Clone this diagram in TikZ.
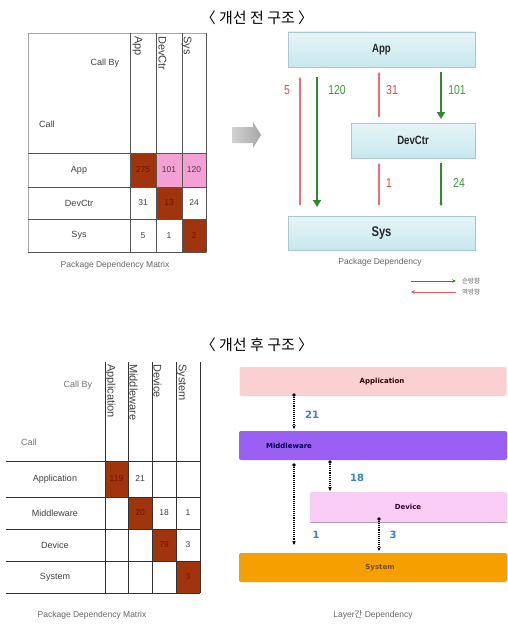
\documentclass[tikz,border=0pt]{standalone}
\usepackage{fontspec}
\setmainfont{Liberation Sans}
\newfontfamily\cjk{Noto Sans CJK KR}
\newfontfamily\narrowfont[FakeStretch=0.8]{Liberation Sans}
\newfontfamily\dejavu{DejaVu Sans}
\usetikzlibrary{arrows.meta}
\definecolor{brownc}{HTML}{A0340C}
\definecolor{pinkc}{HTML}{F5A0D5}
\definecolor{gridc}{HTML}{555555}
\definecolor{cellnum}{HTML}{6E1400}
\definecolor{txtc}{HTML}{404040}
\definecolor{redarr}{HTML}{E8707A}
\definecolor{redlbl}{HTML}{E04848}
\definecolor{greenarr}{HTML}{2E8B2E}
\definecolor{greenlbl}{HTML}{3C9C3C}
\definecolor{boxcyan}{HTML}{C8E8EE}
\definecolor{boxedge}{HTML}{A8C8D0}
\definecolor{apppink}{HTML}{FAD0D2}
\definecolor{midpurple}{HTML}{9A60F4}
\definecolor{devpink}{HTML}{F9CCF6}
\definecolor{sysorange}{HTML}{F5A000}
\definecolor{bluelbl}{HTML}{3A82C8}
\tikzset{
  title/.style={font=\cjk\fontsize{15}{17}\selectfont, text=black},
  caption/.style={font=\fontsize{8.5}{10}\selectfont, text=gray!80!black},
  mtxt/.style={font=\fontsize{9}{11}\selectfont, text=txtc, inner sep=0pt},
  hdr/.style={font=\fontsize{11}{13}\selectfont, text=txtc, rotate=-90, anchor=west, inner sep=0pt},
  cell/.style={inner sep=0pt, font=\fontsize{8.5}{10}\selectfont, text=txtc},
  hot/.style={cell, fill=brownc, text=cellnum},
  warm/.style={cell, fill=pinkc},
  grid/.style={draw=gridc, line width=1pt},
  cbox/.style={draw=boxedge, line width=0.6pt, top color=boxcyan!45!white, bottom color=boxcyan,
    inner sep=0pt, font=\narrowfont\bfseries\fontsize{12}{14}\selectfont, text=black!85},
  rthin/.style={draw=redarr, line width=1.1pt, -{Stealth[length=3pt,width=3pt]}},
  gthick/.style={draw=greenarr, line width=2.6pt, -{Triangle[length=7pt,width=8pt]}},
  gthin/.style={draw=greenarr, line width=1.1pt, -{Stealth[length=3pt,width=3pt]}},
  rlab/.style={font=\narrowfont\fontsize{13}{15}\selectfont, text=redlbl},
  glab/.style={font=\narrowfont\fontsize{13}{15}\selectfont, text=greenlbl},
  lbox/.style={rounded corners=2pt, inner sep=0pt},
  llab/.style={font=\dejavu\bfseries\fontsize{7}{8}\selectfont},
  dotarr/.style={draw=black, densely dotted, line width=1.1pt, -{Stealth[length=4pt,width=3.5pt]}},
  ddot/.style={circle, fill=black, inner sep=0pt, minimum size=3.6pt},
  blab/.style={font=\dejavu\bfseries\fontsize{10}{12}\selectfont, text=bluelbl},
}
\begin{document}
\begin{tikzpicture}[x=1pt,y=-1pt]
\useasboundingbox[fill=white] (0,0) rectangle (508,626);

% titles
\node[title] (t1) at (257,18) {〈 개선 전 구조 〉};
\node[title] (t2) at (257,345) {〈 개선 후 구조 〉};

% ===== top matrix =====
\node[hot]  (a11) at (143,170)   [minimum width=26pt, minimum height=34pt] {275};
\node[warm] (a12) at (169,170)   [minimum width=26pt, minimum height=34pt] {101};
\node[warm] (a13) at (194,170)   [minimum width=24pt, minimum height=34pt] {120};
\node[cell] (a21) at (143,203)   [minimum width=26pt, minimum height=32pt] {31};
\node[hot]  (a22) at (169,203)   [minimum width=26pt, minimum height=32pt] {13};
\node[cell] (a23) at (194,203)   [minimum width=24pt, minimum height=32pt] {24};
\node[cell] (a31) at (143,235.5) [minimum width=26pt, minimum height=33pt] {5};
\node[cell] (a32) at (169,235.5) [minimum width=26pt, minimum height=33pt] {1};
\node[hot]  (a33) at (194,235.5) [minimum width=24pt, minimum height=33pt] {2};
\draw[draw=gray!70, line width=0.8pt] (28,33) rectangle (206,252);
\foreach \yy in {153,187,219,252} \draw[grid] (28,\yy) -- (206,\yy);
\foreach \xx in {130,156,182,206} \draw[grid] (\xx,33) -- (\xx,252);
\node[mtxt] (acb) at (105,63) {Call By};
\node[mtxt] (acl) at (47,124) {Call};
\node[hdr] (ah1) at (137.5,36) {App};
\node[hdr] (ah2) at (162.5,36) {DevCtr};
\node[hdr] (ah3) at (186.5,36) {Sys};
\node[mtxt] (ar1) at (79,170) {App};
\node[mtxt] (ar2) at (79,203) {DevCtr};
\node[mtxt] (ar3) at (79,235.5) {Sys};
\node[caption] (acap) at (115,265) {Package Dependency Matrix};

% gray arrow
\shade[left color=gray!35, right color=gray!70]
  (232,127) -- (253,127) -- (253,122) -- (261,135) -- (253,148) -- (253,143) -- (232,143) -- cycle;

% ===== top right diagram =====
\node[cbox, minimum width=187pt, minimum height=35pt] (app) at (381.5,49.5) {App};
\node[cbox, minimum width=124pt, minimum height=35pt] (dev) at (413,140.5) {DevCtr};
\node[cbox, minimum width=187pt, minimum height=34pt, font=\narrowfont\bfseries\fontsize{14}{16}\selectfont] (sys) at (381.5,233) {Sys};
\coordinate (p5b) at (300,205);  \coordinate (p5t) at (300,77);
\coordinate (p120t) at (317,77); \coordinate (p120b) at (317,207);
\coordinate (p31b) at (379,117); \coordinate (p31t) at (379,72);
\coordinate (p101t) at (441,72); \coordinate (p101b) at (441,119);
\coordinate (p1b) at (379,205);  \coordinate (p1t) at (379,163);
\coordinate (p24t) at (441,163); \coordinate (p24b) at (441,206);
\draw[rthin] (p5b) -- (p5t);
\draw[gthick] (p120t) -- (p120b);
\draw[rthin] (p31b) -- (p31t);
\draw[gthick] (p101t) -- (p101b);
\draw[rthin] (p1b) -- (p1t);
\draw[gthin] (p24t) -- (p24b);
\node[rlab] (l5) at (287,90) {5};
\node[glab] (l120) at (337,90) {120};
\node[rlab] (l31) at (392,90) {31};
\node[glab] (l101) at (457,90) {101};
\node[rlab] (l1) at (389,183) {1};
\node[glab] (l24) at (459,183) {24};
\node[caption] (bcap) at (380,262) {Package Dependency};
% legend
\coordinate (lg1) at (411,281); \coordinate (lg2) at (456,281);
\coordinate (lr1) at (456,292); \coordinate (lr2) at (411,292);
\draw[draw=greenarr, line width=0.7pt, -{Stealth[length=4pt,width=3.5pt]}] (lg1) -- (lg2);
\draw[draw=redarr!80!red, line width=0.7pt, -{Stealth[length=4pt,width=3.5pt]}] (lr1) -- (lr2);
\node[anchor=west, font=\cjk\fontsize{6.5}{7}\selectfont, text=gray!80!black, inner sep=0pt] (lgt) at (462,281) {순방향};
\node[anchor=west, font=\cjk\fontsize{6.5}{7}\selectfont, text=gray!80!black, inner sep=0pt] (lrt) at (462,292) {역방향};

% ===== bottom matrix =====
\node[hot]  (b11) at (116.5,479) [minimum width=23pt, minimum height=36pt] {119};
\node[cell] (b12) at (140,479)   [minimum width=24pt, minimum height=36pt] {21};
\node[hot]  (b22) at (140,513)   [minimum width=24pt, minimum height=32pt] {20};
\node[cell] (b23) at (164,513)   [minimum width=24pt, minimum height=32pt] {18};
\node[cell] (b24) at (188,513)   [minimum width=24pt, minimum height=32pt] {1};
\node[hot]  (b33) at (164,545)   [minimum width=24pt, minimum height=32pt] {79};
\node[cell] (b34) at (188,545)   [minimum width=24pt, minimum height=32pt] {3};
\node[hot]  (b44) at (188,577)   [minimum width=24pt, minimum height=32pt] {3};
\foreach \yy in {461,497,529,561,593} \draw[grid, draw=black!80] (6,\yy) -- (200,\yy);
\foreach \xx in {105,128,152,176,200} \draw[grid, draw=black!80] (\xx,362) -- (\xx,593);
\node[mtxt, text=gray!90!black] (bcb) at (78,385) {Call By};
\node[mtxt, text=gray!90!black] (bcl) at (29,442) {Call};
\node[hdr] (bh1) at (110.5,364) {Application};
\node[hdr] (bh2) at (133.5,364) {Middleware};
\node[hdr] (bh3) at (157.5,364) {Device};
\node[hdr] (bh4) at (181.5,364) {System};
\node[mtxt] (br1) at (55,479) {Application};
\node[mtxt] (br2) at (55,513) {Middleware};
\node[mtxt] (br3) at (55,545) {Device};
\node[mtxt] (br4) at (55,577) {System};
\node[caption] (ccap) at (92,615) {Package Dependency Matrix};

% ===== bottom right diagram =====
\node[lbox, fill=apppink, minimum width=267pt, minimum height=29pt] (lapp) at (373,381.5) {};
\node[lbox, fill=midpurple, minimum width=268pt, minimum height=29pt] (lmid) at (373,445.5) {};
\node[lbox, fill=devpink, minimum width=197pt, minimum height=30pt] (ldev) at (408.5,507) {};
\draw[draw=violet!30!gray!60, line width=0.8pt] (ldev.south west) -- (ldev.south east);
\node[lbox, fill=sysorange, minimum width=268pt, minimum height=29pt] (lsys) at (373,567.5) {};
\node[llab, text=black!70!red!60!black] (tapp) at (382,381.5) {Application};
\node[llab, text=blue!30!black] (tmid) at (289,446) {Middleware};
\node[llab, text=violet!40!black] (tdev) at (408,507) {Device};
\node[llab, text=brown!60!black] (tsys) at (380,568) {System};

\node[ddot] (d21) at (294,395) {};
\node[ddot] (d1) at (294,465) {};
\node[ddot] (d18) at (330,462) {};
\node[ddot] (d3) at (379,519) {};
\coordinate (e21) at (294,429);
\coordinate (e1) at (294,545);
\coordinate (e18) at (330,491);
\coordinate (e3) at (379,551);
\draw[dotarr] (d21) -- (e21);
\draw[dotarr] (d1) -- (e1);
\draw[dotarr] (d18) -- (e18);
\draw[dotarr] (d3) -- (e3);
\node[blab] (n21) at (312,415) {21};
\node[blab] (n18) at (357,478) {18};
\node[blab] (n1) at (316,535) {1};
\node[blab] (n3) at (393,535) {3};
\node[caption] (dcap) at (373,615) {Layer{\cjk 간} Dependency};
\end{tikzpicture}
\end{document}
